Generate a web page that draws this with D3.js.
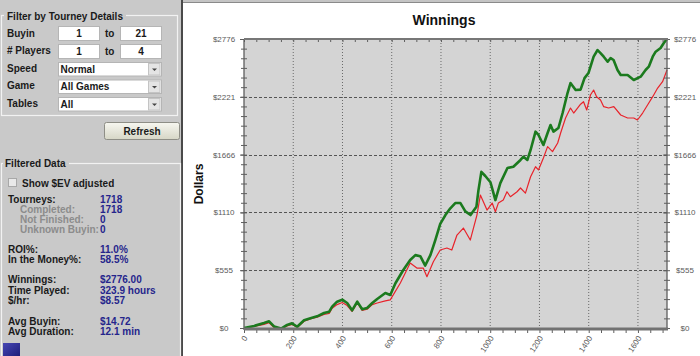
<!DOCTYPE html>
<html>
<head>
<meta charset="utf-8">
<script src="https://cdn.jsdelivr.net/npm/d3@7"></script>
<style>
  body { margin: 0; background: #fff; }
  svg { display: block; font-family: "Liberation Sans", Arial, sans-serif; }
</style>
</head>
<body>
<svg id="chart" width="700" height="356"></svg>
<script>
// cumulative winnings (tourney number, dollars)
const greenT = [0, 41, 81, 102, 122, 151, 175, 195, 216, 244, 273, 297, 325, 346, 358, 378, 399, 419, 439, 460, 480, 500, 521, 541, 574, 594, 615, 647, 675, 696, 716, 736, 757, 777, 797, 818, 838, 858, 879, 899, 920, 944, 952, 964, 980, 1001, 1021, 1041, 1070, 1094, 1123, 1135, 1151, 1164, 1184, 1196, 1216, 1233, 1245, 1257, 1277, 1294, 1314, 1326, 1347, 1367, 1383, 1399, 1420, 1436, 1448, 1461, 1477, 1489, 1501, 1517, 1530, 1558, 1583, 1611, 1631, 1644, 1660, 1672, 1692, 1705, 1718];
const greenDollars = [0, 20, 48, 64, 15, -5, 29, 45, 12, 75, 96, 112, 144, 157, 205, 253, 272, 240, 170, 253, 180, 192, 240, 279, 336, 317, 430, 557, 653, 700, 690, 600, 700, 845, 1000, 1085, 1150, 1200, 1200, 1120, 1085, 1165, 1320, 1500, 1460, 1400, 1229, 1392, 1537, 1549, 1614, 1646, 1614, 1710, 1886, 1854, 1758, 1873, 1950, 1886, 1921, 2065, 2257, 2353, 2286, 2290, 2400, 2449, 2606, 2670, 2641, 2606, 2558, 2593, 2574, 2478, 2430, 2430, 2382, 2414, 2478, 2510, 2606, 2654, 2689, 2737, 2776];
const redT = [0, 41, 81, 102, 122, 151, 175, 195, 216, 244, 273, 297, 325, 346, 358, 378, 399, 419, 439, 460, 480, 500, 521, 541, 574, 594, 635, 675, 702, 728, 743, 769, 797, 824, 844, 865, 891, 919, 946, 960, 987, 1008, 1021, 1033, 1053, 1068, 1082, 1109, 1123, 1143, 1164, 1184, 1196, 1216, 1233, 1253, 1274, 1286, 1306, 1326, 1339, 1367, 1379, 1392, 1407, 1420, 1432, 1448, 1461, 1481, 1502, 1530, 1558, 1583, 1598, 1619, 1639, 1660, 1680, 1700, 1718];
const redDollars = [0, 15, 35, 50, 5, -10, 20, 35, 5, 65, 90, 105, 130, 140, 190, 225, 245, 215, 160, 240, 170, 180, 225, 240, 260, 270, 432, 624, 576, 576, 493, 637, 749, 768, 749, 893, 960, 845, 1085, 1277, 1133, 1200, 1117, 1200, 1229, 1309, 1261, 1309, 1345, 1296, 1453, 1549, 1518, 1633, 1742, 1694, 1777, 1873, 2017, 2113, 2065, 2150, 2174, 2094, 2238, 2286, 2222, 2190, 2126, 2113, 2126, 2046, 2017, 2017, 1998, 2065, 2142, 2222, 2305, 2366, 2478];

const dollarTicks = [0, 555.2, 1110.4, 1665.6, 2220.8, 2776];
const dollarLabels = ['$0', '$555', '$1110', '$1666', '$2221', '$2776'];
const tourneyTicks = [0, 200, 400, 600, 800, 1000, 1200, 1400, 1600];

// left panel contents
const filterRows = ['Buyin', '# Players', 'Speed', 'Game', 'Tables'];
const rangeFrom = ['1', '1'];
const rangeTo = ['21', '4'];
const selectValues = ['Normal', 'All Games', 'All'];
const statLabels = ['Tourneys:', 'Completed:', 'Not Finished:', 'Unknown Buyin:', 'ROI%:', 'In the Money%:', 'Winnings:', 'Time Played:', '$/hr:', 'Avg Buyin:', 'Avg Duration:'];
const statValues = ['1718', '1718', '0', '0', '11.0%', '58.5%', '$2776.00', '323.9 hours', '$8.57', '$14.72', '12.1 min'];
const statSub = [false, true, true, true, false, false, false, false, false, false, false];

const svg = d3.select('#chart');
const defs = svg.append('defs');

// ---------- left panel ----------
const panelBg = '#c9c9c9';
svg.append('rect').attr('x', 0).attr('y', 0).attr('width', 183).attr('height', 356).attr('fill', panelBg);
svg.append('rect').attr('x', 181).attr('y', 0).attr('width', 2).attr('height', 356).attr('fill', '#4a4a4a');

const panel = svg.append('g').attr('font-size', 10).attr('font-weight', 'bold');

// fieldset 1
panel.append('rect').attr('x', 1.5).attr('y', 15.5).attr('width', 176).attr('height', 100)
  .attr('fill', 'none').attr('stroke', '#f2f2f2').attr('stroke-width', 1.2);
panel.append('rect').attr('x', 4).attr('y', 12).attr('width', 122).attr('height', 8).attr('fill', panelBg);
panel.append('text').attr('x', 7).attr('y', 19.5).attr('fill', '#1a1a1a').text('Filter by Tourney Details');

const rowBase = [36.5, 54, 71.5, 89, 106.5];
panel.selectAll('.rowlab').data(filterRows).enter().append('text')
  .attr('x', 7).attr('y', (d, i) => rowBase[i]).attr('fill', '#1a1a1a').text(d => d);

[0, 1].forEach(i => {
  const y0 = 26 + i * 18;
  panel.append('rect').attr('x', 58.5).attr('y', y0 + 0.5).attr('width', 41).attr('height', 14)
    .attr('fill', '#fff').attr('stroke', '#b5b5b5');
  panel.append('text').attr('x', 79).attr('y', y0 + 11).attr('text-anchor', 'middle').attr('fill', '#1a1a1a').text(rangeFrom[i]);
  panel.append('text').attr('x', 105).attr('y', y0 + 11).attr('fill', '#1a1a1a').text('to');
  panel.append('rect').attr('x', 120.5).attr('y', y0 + 0.5).attr('width', 41).attr('height', 14)
    .attr('fill', '#fff').attr('stroke', '#b5b5b5');
  panel.append('text').attr('x', 141).attr('y', y0 + 11).attr('text-anchor', 'middle').attr('fill', '#1a1a1a').text(rangeTo[i]);
});

const selTop = [62, 79.5, 97];
selectValues.forEach((v, i) => {
  const y0 = selTop[i];
  panel.append('rect').attr('x', 58.5).attr('y', y0 + 0.5).attr('width', 103).attr('height', 13.5)
    .attr('fill', '#fff').attr('stroke', '#b5b5b5');
  panel.append('rect').attr('x', 148.5).attr('y', y0 + 1.5).attr('width', 11.5).attr('height', 11.5)
    .attr('fill', '#e4e4e4').attr('stroke', '#c4c4c4');
  panel.append('path').attr('d', `M152,${y0 + 6.5} L157,${y0 + 6.5} L154.5,${y0 + 9} Z`).attr('fill', '#444');
  panel.append('text').attr('x', 60.5).attr('y', y0 + 10.5).attr('fill', '#1a1a1a').text(v);
});

// refresh button
const btnGrad = defs.append('linearGradient').attr('id', 'btn').attr('x1', 0).attr('x2', 0).attr('y1', 0).attr('y2', 1);
btnGrad.append('stop').attr('offset', '0%').attr('stop-color', '#f7f7f0');
btnGrad.append('stop').attr('offset', '100%').attr('stop-color', '#d6d6c6');
panel.append('rect').attr('x', 104.5).attr('y', 122.5).attr('width', 75).attr('height', 17).attr('rx', 2)
  .attr('fill', 'url(#btn)').attr('stroke', '#8e8e86');
panel.append('text').attr('x', 142).attr('y', 134.5).attr('text-anchor', 'middle').attr('fill', '#1a1a1a').text('Refresh');

// fieldset 2
panel.append('rect').attr('x', 1.5).attr('y', 163.5).attr('width', 179).attr('height', 200)
  .attr('fill', 'none').attr('stroke', '#f2f2f2').attr('stroke-width', 1.2);
panel.append('rect').attr('x', 3).attr('y', 159).attr('width', 66).attr('height', 8).attr('fill', panelBg);
panel.append('text').attr('x', 5).attr('y', 166.5).attr('fill', '#1a1a1a').text('Filtered Data');

panel.append('rect').attr('x', 8.5).attr('y', 178.5).attr('width', 8).attr('height', 8)
  .attr('fill', '#e9e9e9').attr('stroke', '#a8a8a8');
panel.append('text').attr('x', 22).attr('y', 186.5).attr('fill', '#1a1a1a').text('Show $EV adjusted');

const statBase = [202.5, 212.5, 222.5, 232.8, 252.8, 263.2, 283.2, 293.8, 303.8, 324.5, 335.2];
panel.selectAll('.statlab').data(statLabels).enter().append('text')
  .attr('x', (d, i) => statSub[i] ? 20 : 8)
  .attr('y', (d, i) => statBase[i])
  .attr('fill', (d, i) => statSub[i] ? '#8c8c8c' : '#1a1a1a')
  .text(d => d);
panel.selectAll('.statval').data(statValues).enter().append('text')
  .attr('x', 100).attr('y', (d, i) => statBase[i])
  .attr('fill', '#25258c').text(d => d);

const sqGrad = defs.append('linearGradient').attr('id', 'sq').attr('x1', 0).attr('x2', 1).attr('y1', 0).attr('y2', 1);
sqGrad.append('stop').attr('offset', '0%').attr('stop-color', '#4646b4');
sqGrad.append('stop').attr('offset', '100%').attr('stop-color', '#1c1c78');
panel.append('rect').attr('x', 3).attr('y', 343).attr('width', 17).attr('height', 14).attr('fill', 'url(#sq)');

// ---------- chart area ----------
svg.append('rect').attr('x', 183).attr('y', 0).attr('width', 517).attr('height', 3).attr('fill', '#c4c4c4');
svg.append('rect').attr('x', 183).attr('y', 2).attr('width', 517).attr('height', 1).attr('fill', '#8a8a8a');

const x = d3.scaleLinear().domain([0, 1718]).range([244, 667]);
const y = d3.scaleLinear().domain([0, 2776]).range([328, 39]);

svg.append('rect').attr('x', 244).attr('y', 39).attr('width', 423).attr('height', 289).attr('fill', '#d4d4d4');

// grid
svg.append('g').selectAll('line').data(tourneyTicks.slice(1)).enter().append('line')
  .attr('x1', d => x(d)).attr('x2', d => x(d)).attr('y1', 40).attr('y2', 328)
  .attr('stroke', '#6a6a6a').attr('stroke-dasharray', '1,2');
svg.append('g').selectAll('line').data(dollarTicks.slice(1, 5)).enter().append('line')
  .attr('x1', 244).attr('x2', 667).attr('y1', d => Math.round(y(d)) + 0.5).attr('y2', d => Math.round(y(d)) + 0.5)
  .attr('stroke', '#555').attr('stroke-dasharray', '3,2');

// lines
const line = d3.line().x(d => x(d[0])).y(d => y(d[1]));
svg.append('path').datum(d3.zip(redT, redDollars)).attr('d', line)
  .attr('fill', 'none').attr('stroke', '#e8232b').attr('stroke-width', 1.2).attr('stroke-linejoin', 'round');
svg.append('path').datum(d3.zip(greenT, greenDollars)).attr('d', line)
  .attr('fill', 'none').attr('stroke', '#1b7a1e').attr('stroke-width', 2.6).attr('stroke-linejoin', 'round');

// axes
const minorX = d3.range(0, 1718, 50);
const minorY = d3.range(0, 2776.1, 2776 / 30);
const axisColor = '#5e5e5e';

function styleAxis(g, width) {
  g.select('.domain').remove();
  g.selectAll('.tick line').attr('stroke', axisColor).attr('stroke-width', width || 1);
  g.selectAll('.tick text').remove();
}

svg.append('g').attr('transform', 'translate(0,328)')
  .call(d3.axisBottom(x).tickValues(minorX).tickSizeInner(5).tickSizeOuter(0))
  .call(g => styleAxis(g));
svg.append('g').attr('transform', 'translate(0,39)')
  .call(d3.axisBottom(x).tickValues(minorX).tickSizeInner(3).tickSizeOuter(0))
  .call(g => styleAxis(g));

[244, 667].forEach(px => {
  svg.append('g').attr('transform', `translate(${px},0)`)
    .call(d3.axisLeft(y).tickValues(minorY).tickSizeInner(3).tickSizeOuter(0))
    .call(g => styleAxis(g));
  svg.append('g').attr('transform', `translate(${px},0)`)
    .call(d3.axisRight(y).tickValues(minorY).tickSizeInner(3).tickSizeOuter(0))
    .call(g => styleAxis(g));
  svg.append('g').attr('transform', `translate(${px},0)`)
    .call(d3.axisLeft(y).tickValues(dollarTicks).tickSizeInner(4).tickSizeOuter(0))
    .call(g => styleAxis(g));
  svg.append('line').attr('x1', px).attr('x2', px).attr('y1', 39).attr('y2', 330)
    .attr('stroke', axisColor).attr('stroke-width', 1.3);
});
svg.append('line').attr('x1', 244).attr('x2', 668).attr('y1', 39).attr('y2', 39)
  .attr('stroke', '#777').attr('stroke-width', 2);
svg.append('line').attr('x1', 244).attr('x2', 668).attr('y1', 329).attr('y2', 329)
  .attr('stroke', '#727272').attr('stroke-width', 3);

// tick labels
const labels = svg.append('g').attr('font-size', 8).attr('fill', '#5a5a5a');
[224, 685].forEach(cx => {
  labels.append('g').selectAll('text').data(dollarTicks).enter().append('text')
    .attr('x', cx).attr('y', d => y(d) + 3).attr('text-anchor', 'middle')
    .text((d, i) => dollarLabels[i]);
});
labels.append('g').selectAll('text').data(tourneyTicks).enter().append('text')
  .attr('text-anchor', 'end')
  .attr('transform', d => `translate(${x(d) + 4},338) rotate(-57)`)
  .text(d => d);

// titles
svg.append('text').attr('x', 444).attr('y', 25).attr('text-anchor', 'middle')
  .attr('font-size', 14).attr('font-weight', 'bold').attr('fill', '#111').text('Winnings');
svg.append('text').attr('transform', 'translate(203,184) rotate(-90)').attr('text-anchor', 'middle')
  .attr('font-size', 12).attr('font-weight', 'bold').attr('fill', '#111').text('Dollars');
</script>
</body>
</html>
